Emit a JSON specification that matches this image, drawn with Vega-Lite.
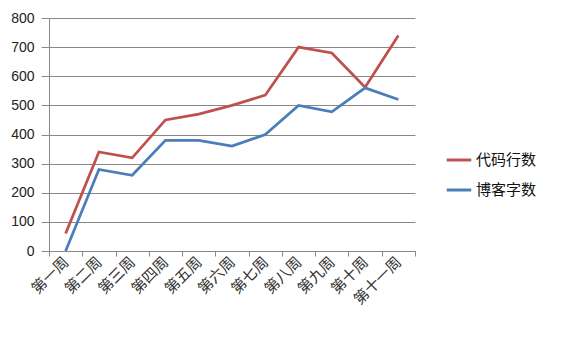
{
  "$schema": "https://vega.github.io/schema/vega-lite/v6.json",
  "width": 366,
  "height": 233,
  "autosize": "none",
  "padding": {"left": 49, "top": 18, "right": 164, "bottom": 104},
  "background": "white",
  "data": {"values": [
    {"week": "第一周", "series": "代码行数", "value": 60},
    {"week": "第二周", "series": "代码行数", "value": 340},
    {"week": "第三周", "series": "代码行数", "value": 320},
    {"week": "第四周", "series": "代码行数", "value": 450},
    {"week": "第五周", "series": "代码行数", "value": 470},
    {"week": "第六周", "series": "代码行数", "value": 500},
    {"week": "第七周", "series": "代码行数", "value": 535},
    {"week": "第八周", "series": "代码行数", "value": 700},
    {"week": "第九周", "series": "代码行数", "value": 680},
    {"week": "第十周", "series": "代码行数", "value": 562},
    {"week": "第十一周", "series": "代码行数", "value": 740},
    {"week": "第一周", "series": "博客字数", "value": 0},
    {"week": "第二周", "series": "博客字数", "value": 280},
    {"week": "第三周", "series": "博客字数", "value": 260},
    {"week": "第四周", "series": "博客字数", "value": 380},
    {"week": "第五周", "series": "博客字数", "value": 380},
    {"week": "第六周", "series": "博客字数", "value": 360},
    {"week": "第七周", "series": "博客字数", "value": 400},
    {"week": "第八周", "series": "博客字数", "value": 500},
    {"week": "第九周", "series": "博客字数", "value": 478},
    {"week": "第十周", "series": "博客字数", "value": 560},
    {"week": "第十一周", "series": "博客字数", "value": 520}
  ]},
  "mark": {"type": "line", "strokeWidth": 2.75},
  "encoding": {
    "x": {
      "field": "week", "type": "nominal", "sort": null,
      "scale": {"type": "band", "paddingInner": 0, "paddingOuter": 0},
      "axis": {
        "title": null, "labelAngle": -45, "labelAlign": "right", "labelBaseline": "middle",
        "labelFont": "Noto Sans CJK SC", "labelFontSize": 15, "labelColor": "#333333",
        "tickBand": "extent", "tickSize": 5, "tickColor": "#888888", "domainColor": "#888888",
        "labelPadding": 3, "grid": false
      }
    },
    "y": {
      "field": "value", "type": "quantitative",
      "scale": {"domain": [0, 800]},
      "axis": {
        "title": null, "values": [0, 100, 200, 300, 400, 500, 600, 700, 800],
        "labelFont": "Liberation Sans", "labelFontSize": 14, "labelColor": "#222222",
        "tickSize": 8, "tickColor": "#888888", "domainColor": "#888888",
        "gridColor": "#888888", "gridOpacity": 1, "labelPadding": 7
      }
    },
    "color": {
      "field": "series", "type": "nominal", "sort": ["代码行数", "博客字数"],
      "scale": {"domain": ["代码行数", "博客字数"], "range": ["#C0504D", "#4A7EBB"]},
      "legend": {
        "title": null, "orient": "none", "legendX": 396, "legendY": 128,
        "symbolType": "stroke", "symbolSize": 600, "symbolStrokeWidth": 3,
        "labelFont": "Noto Sans CJK SC", "labelFontSize": 15, "labelColor": "#111111",
        "rowPadding": 8, "labelOffset": 3
      }
    }
  },
  "config": {"view": {"stroke": null}}
}
